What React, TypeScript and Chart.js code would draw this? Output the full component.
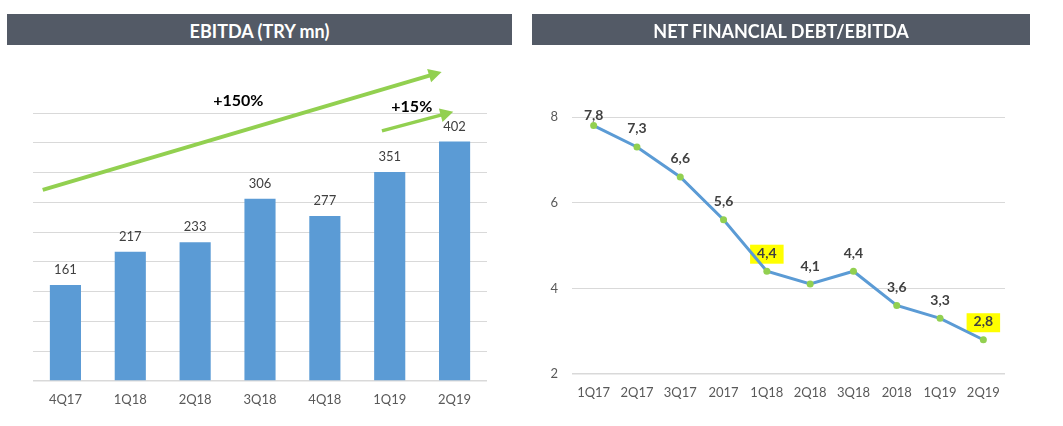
import React, { useEffect, useRef } from "react";
import { Chart, registerables } from "chart.js";

Chart.register(...registerables);

// ---------- data ----------
const ebitdaQuarters = ["4Q17", "1Q18", "2Q18", "3Q18", "4Q18", "1Q19", "2Q19"];
const ebitdaValues = [161, 217, 233, 306, 277, 351, 402];
const ebitdaTicks = { min: 0, max: 450, step: 50 };

const debtPeriods = ["1Q17", "2Q17", "3Q17", "2017", "1Q18", "2Q18", "3Q18", "2018", "1Q19", "2Q19"];
const debtRatio = [7.8, 7.3, 6.6, 5.6, 4.4, 4.1, 4.4, 3.6, 3.3, 2.8];
const debtTicks = { min: 2, max: 8, step: 2 };
const highlightedPeriods = ["1Q18", "2Q19"];

// growth arrows, in data units (category index, EBITDA value)
const growthLabels = ["+150%", "+15%"];
const growthFrom = [[-0.35, 321], [4.88, 420]];
const growthTo = [[5.8, 519], [5.98, 452]];
const growthLabelAt = [[2.665, 471], [5.34, 460]];

// ---------- styles ----------
const FONT = "Lato, 'Open Sans', sans-serif";
const BLUE = "#5b9bd5";
const GREEN = "#92d050";
const GRID = "#d9d9d9";
const AXIS_TEXT = "#595959";
const LABEL_TEXT = "#404040";
const HEADER_BG = "#535a66";

const fmtComma = (v: number) => v.toFixed(1).replace(".", ",");

function drawArrow(ctx: CanvasRenderingContext2D, x1: number, y1: number, x2: number, y2: number, w: number) {
  const ang = Math.atan2(y2 - y1, x2 - x1);
  const headLen = 13;
  const headHalf = 7;
  const bx = x2 - Math.cos(ang) * headLen;
  const by = y2 - Math.sin(ang) * headLen;
  ctx.strokeStyle = GREEN;
  ctx.fillStyle = GREEN;
  ctx.lineWidth = w;
  ctx.lineCap = "butt";
  ctx.beginPath();
  ctx.moveTo(x1, y1);
  ctx.lineTo(bx + Math.cos(ang) * 1, by + Math.sin(ang) * 1);
  ctx.stroke();
  ctx.beginPath();
  ctx.moveTo(x2, y2);
  ctx.lineTo(bx - Math.sin(ang) * headHalf, by + Math.cos(ang) * headHalf);
  ctx.lineTo(bx + Math.sin(ang) * headHalf, by - Math.cos(ang) * headHalf);
  ctx.closePath();
  ctx.fill();
}

const ebitdaPlugin = {
  id: "ebitdaDecor",
  afterDatasetsDraw(chart: any) {
    const ctx: CanvasRenderingContext2D = chart.ctx;
    const meta = chart.getDatasetMeta(0);
    ctx.save();
    ctx.font = `13px ${FONT}`;
    ctx.fillStyle = LABEL_TEXT;
    ctx.textAlign = "center";
    ctx.textBaseline = "middle";
    meta.data.forEach((bar: any, i: number) => {
      ctx.fillText(String(ebitdaValues[i]), bar.x, bar.y - 15);
    });
    const xs = chart.scales.x;
    const ys = chart.scales.y;
    growthLabels.forEach((lab, i) => {
      const x1 = xs.getPixelForValue(growthFrom[i][0]);
      const y1 = ys.getPixelForValue(growthFrom[i][1]);
      const x2 = xs.getPixelForValue(growthTo[i][0]);
      const y2 = ys.getPixelForValue(growthTo[i][1]);
      drawArrow(ctx, x1, y1, x2, y2, i === 0 ? 4 : 3.5);
      ctx.font = `bold 16px ${FONT}`;
      ctx.fillStyle = "#000000";
      ctx.textAlign = "center";
      ctx.textBaseline = "middle";
      ctx.fillText(lab, xs.getPixelForValue(growthLabelAt[i][0]), ys.getPixelForValue(growthLabelAt[i][1]));
    });
    ctx.restore();
  },
};

function debtLabelPos(chart: any, pt: any) {
  return { x: pt.x, y: Math.max(pt.y - 18, chart.chartArea.top - 2) };
}

const debtPlugin = {
  id: "debtDecor",
  beforeDatasetsDraw(chart: any) {
    const ctx: CanvasRenderingContext2D = chart.ctx;
    const meta = chart.getDatasetMeta(0);
    ctx.save();
    ctx.font = `bold 14px ${FONT}`;
    meta.data.forEach((pt: any, i: number) => {
      if (!highlightedPeriods.includes(debtPeriods[i])) return;
      const p = debtLabelPos(chart, pt);
      const w = ctx.measureText(fmtComma(debtRatio[i])).width + 14;
      const h = 19;
      ctx.fillStyle = "#ffff00";
      ctx.fillRect(p.x - w / 2, p.y - h / 2 + 1, w, h);
    });
    ctx.restore();
  },
  afterDatasetsDraw(chart: any) {
    const ctx: CanvasRenderingContext2D = chart.ctx;
    const meta = chart.getDatasetMeta(0);
    ctx.save();
    ctx.font = `bold 14px ${FONT}`;
    ctx.fillStyle = LABEL_TEXT;
    ctx.textAlign = "center";
    ctx.textBaseline = "middle";
    meta.data.forEach((pt: any, i: number) => {
      const p = debtLabelPos(chart, pt);
      ctx.fillText(fmtComma(debtRatio[i]), p.x, p.y);
    });
    ctx.restore();
  },
};

function EbitdaChart() {
  const ref = useRef<HTMLCanvasElement | null>(null);
  useEffect(() => {
    let chart: Chart | null = null;
    let cancelled = false;
    const make = () => {
      if (cancelled || !ref.current) return;
      chart = new Chart(ref.current, {
        type: "bar",
        data: {
          labels: ebitdaQuarters,
          datasets: [
            {
              data: ebitdaValues,
              backgroundColor: BLUE,
              borderWidth: 0,
              categoryPercentage: 1,
              barPercentage: 0.48,
            },
          ],
        },
        options: {
          responsive: false,
          maintainAspectRatio: false,
          animation: false,
          layout: { padding: { left: 33, right: 33, top: 113, bottom: 0 } },
          plugins: { legend: { display: false }, tooltip: { enabled: false } },
          scales: {
            x: {
              grid: { display: false, drawTicks: false },
              border: { display: false },
              ticks: { color: AXIS_TEXT, font: { family: FONT, size: 13 }, padding: 11 },
              afterFit: (s: any) => {
                s.height = 45;
              },
            },
            y: {
              min: ebitdaTicks.min,
              max: ebitdaTicks.max,
              ticks: { stepSize: ebitdaTicks.step, display: false },
              grid: {
                color: GRID,
                drawTicks: false,
                lineWidth: (c: any) => (c.tick && c.tick.value === ebitdaTicks.min ? 1.5 : 1),
              },
              border: { display: false },
              afterFit: (s: any) => {
                s.width = 0;
              },
            },
          },
        },
        plugins: [ebitdaPlugin],
      } as any);
    };
    const fonts = (document as any).fonts;
    if (fonts && fonts.load) {
      Promise.all([fonts.load(`13px Lato`), fonts.load(`bold 16px Lato`)]).then(make, make);
    } else make();
    return () => {
      cancelled = true;
      if (chart) chart.destroy();
    };
  }, []);
  return <canvas ref={ref} width={520} height={426} style={{ position: "absolute", left: 0, top: 0, width: 520, height: 426 }} />;
}

function DebtChart() {
  const ref = useRef<HTMLCanvasElement | null>(null);
  useEffect(() => {
    let chart: Chart | null = null;
    let cancelled = false;
    const make = () => {
      if (cancelled || !ref.current) return;
      chart = new Chart(ref.current, {
        type: "line",
        data: {
          labels: debtPeriods,
          datasets: [
            {
              data: debtRatio,
              borderColor: BLUE,
              borderWidth: 3,
              tension: 0,
              pointRadius: 3.5,
              pointBackgroundColor: GREEN,
              pointBorderColor: GREEN,
              pointBorderWidth: 0,
              fill: false,
            },
          ],
        },
        options: {
          responsive: false,
          maintainAspectRatio: false,
          animation: false,
          layout: { padding: { left: 0, right: 58, top: 117, bottom: 0 } },
          plugins: { legend: { display: false }, tooltip: { enabled: false } },
          scales: {
            x: {
              offset: true,
              grid: { display: false, drawTicks: false },
              border: { display: false },
              ticks: { color: AXIS_TEXT, font: { family: FONT, size: 13 }, padding: 11 },
              afterFit: (s: any) => {
                s.height = 52;
              },
            },
            y: {
              min: debtTicks.min,
              max: debtTicks.max,
              ticks: { stepSize: debtTicks.step, color: AXIS_TEXT, font: { family: FONT, size: 13 }, padding: 14 },
              grid: {
                color: GRID,
                drawTicks: false,
                lineWidth: (c: any) => (c.tick && c.tick.value === debtTicks.min ? 1.5 : 1),
              },
              border: { display: false },
              afterFit: (s: any) => {
                s.width = 42;
              },
            },
          },
        },
        plugins: [debtPlugin],
      } as any);
    };
    const fonts = (document as any).fonts;
    if (fonts && fonts.load) {
      Promise.all([fonts.load(`13px Lato`), fonts.load(`bold 14px Lato`)]).then(make, make);
    } else make();
    return () => {
      cancelled = true;
      if (chart) chart.destroy();
    };
  }, []);
  return <canvas ref={ref} width={533} height={426} style={{ position: "absolute", left: 530, top: 0, width: 533, height: 426 }} />;
}

const headerStyle: React.CSSProperties = {
  position: "absolute",
  top: 14,
  height: 31,
  boxSizing: "border-box",
  paddingTop: 2,
  lineHeight: "31px",
  background: HEADER_BG,
  color: "#ffffff",
  fontFamily: FONT,
  fontWeight: "bold",
  fontSize: 18,
  textAlign: "center",
  overflow: "hidden",
};

export default function App() {
  return (
    <div style={{ position: "absolute", left: 0, top: 0, width: 1063, height: 426, background: "#ffffff", overflow: "hidden" }}>
      <EbitdaChart />
      <DebtChart />
      <div style={{ ...headerStyle, left: 7, width: 505 }}>EBITDA (TRY mn)</div>
      <div style={{ ...headerStyle, left: 532, width: 498 }}>NET FINANCIAL DEBT/EBITDA</div>
    </div>
  );
}
